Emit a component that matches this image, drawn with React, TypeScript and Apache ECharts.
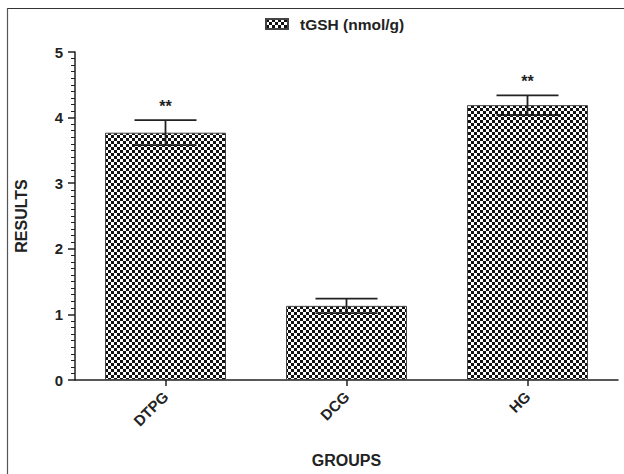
import React, { useEffect, useRef } from 'react';
import * as echarts from 'echarts';

const categories = ['DTPG', 'DCG', 'HG'];
const means = [3.77, 1.13, 4.19];
const sems = [0.19, 0.11, 0.15];
const significance = ['**', '', '**'];
const seriesName = 'tGSH (nmol/g)';
const yMin = 0;
const yMax = 5;
const yInterval = 1;

const FONT = '"Liberation Sans", Arial, Helvetica, sans-serif';
const INK = '#222';

function makePattern(): string {
  const c = document.createElement('canvas');
  c.width = 6;
  c.height = 6;
  const ctx = c.getContext('2d')!;
  ctx.fillStyle = '#ffffff';
  ctx.fillRect(0, 0, 6, 6);
  ctx.fillStyle = '#111111';
  ctx.fillRect(0, 0, 3, 3);
  ctx.fillRect(3, 3, 3, 3);
  return c.toDataURL();
}

export default function App() {
  const ref = useRef<HTMLDivElement>(null);

  useEffect(() => {
    if (!ref.current) return;
    const chart = echarts.init(ref.current, null, { renderer: 'svg' });
    const pattern = { image: makePattern(), repeat: 'repeat' };

    const errData = categories.map((c, i) => [i, means[i], sems[i]]);

    const option: any = {
      animation: false,
      backgroundColor: '#ffffff',
      textStyle: { fontFamily: FONT },
      legend: {
        left: 265,
        top: 16,
        padding: 0,
        selectedMode: false,
        itemWidth: 22,
        itemHeight: 10,
        data: [{ name: seriesName, icon: 'rect' }],
        textStyle: {
          fontFamily: FONT,
          fontWeight: 'bold',
          fontSize: 15.5,
          color: INK,
          padding: [0, 0, 0, 7],
        },
      },
      grid: { left: 75, right: 6, top: 52, bottom: 94, containLabel: false },
      xAxis: {
        type: 'category',
        data: categories,
        boundaryGap: true,
        axisLine: { show: true, lineStyle: { color: INK, width: 1.5 } },
        axisTick: { show: true, alignWithLabel: true, length: 6, lineStyle: { color: INK, width: 1.5 } },
        axisLabel: {
          rotate: 45,
          margin: 14,
          fontFamily: FONT,
          fontWeight: 'bold',
          fontSize: 15,
          color: INK,
        },
        splitLine: { show: false },
        name: 'GROUPS',
        nameLocation: 'middle',
        nameGap: 72,
        nameTextStyle: { fontFamily: FONT, fontWeight: 'bold', fontSize: 16, color: INK },
      },
      yAxis: {
        type: 'value',
        min: yMin,
        max: yMax,
        interval: yInterval,
        splitLine: { show: false },
        axisLine: { show: true, lineStyle: { color: INK, width: 1.5 } },
        axisTick: { show: true, length: 7, lineStyle: { color: INK, width: 1.5 } },
        minorTick: { show: true, splitNumber: 10, length: 4, lineStyle: { color: INK, width: 1 } },
        axisLabel: {
          margin: 12,
          fontFamily: FONT,
          fontWeight: 'bold',
          fontSize: 15,
          color: INK,
        },
        name: 'RESULTS',
        nameLocation: 'middle',
        nameGap: 46,
        nameTextStyle: { fontFamily: FONT, fontWeight: 'bold', fontSize: 16, color: INK },
      },
      series: [
        {
          name: seriesName,
          type: 'bar',
          data: means,
          barWidth: 121,
          itemStyle: { color: pattern, borderColor: '#444', borderWidth: 1 },
        },
        {
          type: 'custom',
          data: errData,
          z: 5,
          renderItem: (params: any, api: any) => {
            const x = api.value(0);
            const m = api.value(1);
            const e = api.value(2);
            const top = api.coord([x, m + e]);
            const bot = api.coord([x, m - e]);
            const hw = 31;
            const style = { stroke: INK, lineWidth: 1.8 };
            const children: any[] = [
              { type: 'line', shape: { x1: top[0], y1: top[1], x2: bot[0], y2: bot[1] }, style },
              { type: 'line', shape: { x1: top[0] - hw, y1: top[1], x2: top[0] + hw, y2: top[1] }, style },
              { type: 'line', shape: { x1: bot[0] - hw, y1: bot[1], x2: bot[0] + hw, y2: bot[1] }, style },
            ];
            const sig = significance[params.dataIndex];
            if (sig) {
              children.push({
                type: 'text',
                x: top[0],
                y: top[1] - 22,
                style: {
                  text: sig,
                  fill: INK,
                  font: `bold 16px ${FONT}`,
                  align: 'center',
                  verticalAlign: 'top',
                },
              });
            }
            return { type: 'group', children };
          },
        },
      ],
      graphic: [
        { type: 'line', shape: { x1: 7, y1: 8.5, x2: 624, y2: 8.5 }, style: { stroke: '#333', lineWidth: 1.2 } },
        { type: 'line', shape: { x1: 7.5, y1: 8, x2: 7.5, y2: 474 }, style: { stroke: '#555', lineWidth: 1.2 } },
      ],
    };
    chart.setOption(option);
    return () => chart.dispose();
  }, []);

  return (
    <div
      ref={ref}
      style={{ position: 'fixed', left: 0, top: 0, width: 624, height: 474, background: '#fff' }}
    />
  );
}
